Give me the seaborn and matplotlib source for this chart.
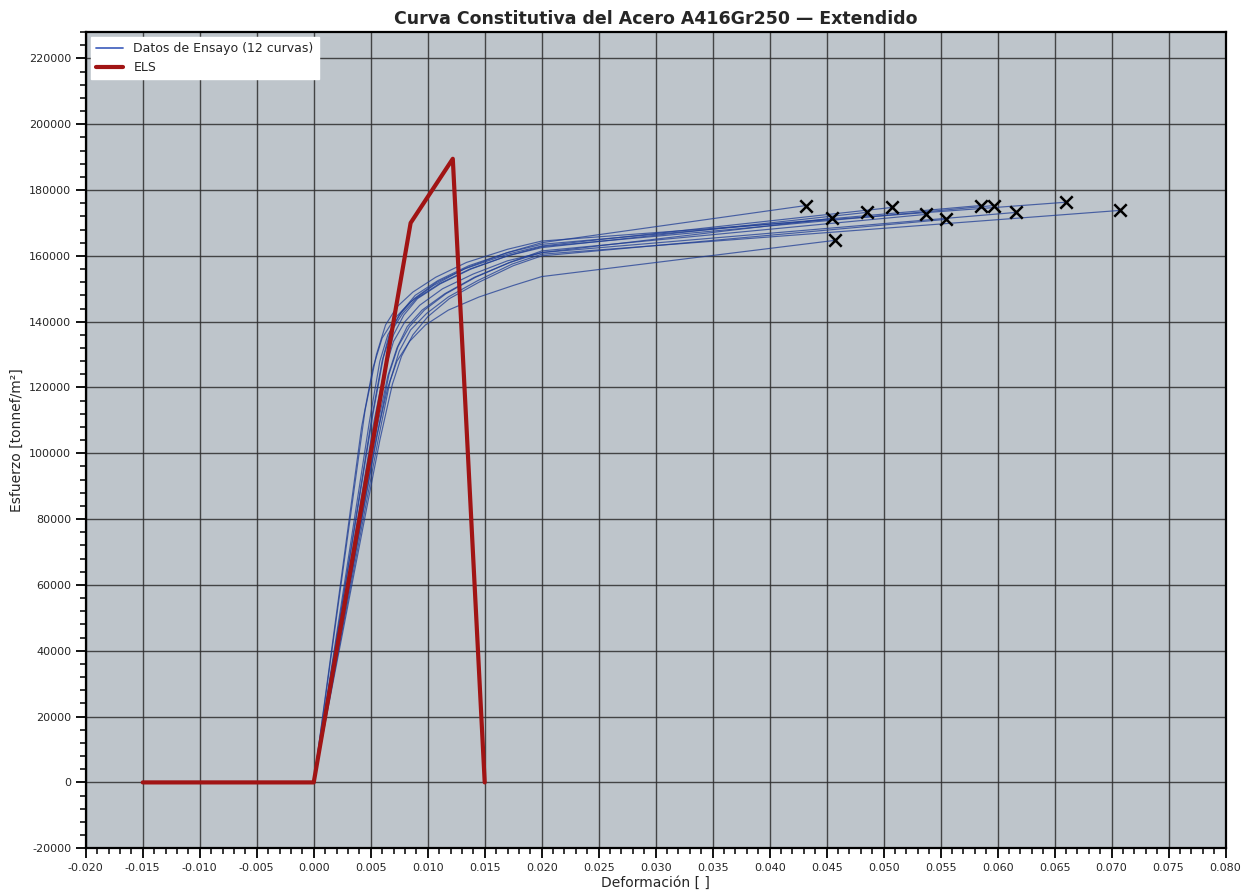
import matplotlib
matplotlib.use("Agg")
import matplotlib.pyplot as plt
import seaborn as sns
import pandas as pd
from matplotlib.ticker import MultipleLocator, FormatStrFormatter
from matplotlib.lines import Line2D

# ---------------- data ----------------
curve_strains = [
    [0, 0.0049, 0.0058, 0.0065, 0.0075, 0.0088, 0.0108, 0.0135, 0.0170, 0.02, 0.0432],
    [0, 0.0053, 0.0063, 0.0070, 0.0080, 0.0093, 0.0113, 0.0140, 0.0170, 0.02, 0.0455],
    [0, 0.0055, 0.0065, 0.0073, 0.0084, 0.0098, 0.0118, 0.0145, 0.0175, 0.02, 0.0457],
    [0, 0.0052, 0.0061, 0.0068, 0.0078, 0.0090, 0.0110, 0.0137, 0.0170, 0.02, 0.0485],
    [0, 0.0042, 0.0052, 0.0060, 0.0071, 0.0085, 0.0105, 0.0132, 0.0170, 0.02, 0.0507],
    [0, 0.0056, 0.0066, 0.0074, 0.0084, 0.0097, 0.0116, 0.0142, 0.0172, 0.02, 0.0537],
    [0, 0.0058, 0.0069, 0.0077, 0.0087, 0.0100, 0.0119, 0.0145, 0.0175, 0.02, 0.0555],
    [0, 0.0051, 0.0060, 0.0067, 0.0077, 0.0089, 0.0109, 0.0136, 0.0170, 0.02, 0.0585],
    [0, 0.0053, 0.0063, 0.0070, 0.0079, 0.0091, 0.0111, 0.0138, 0.0170, 0.02, 0.0597],
    [0, 0.0055, 0.0065, 0.0073, 0.0082, 0.0095, 0.0115, 0.0141, 0.0172, 0.02, 0.0616],
    [0, 0.0045, 0.0055, 0.0063, 0.0073, 0.0087, 0.0107, 0.0134, 0.0170, 0.02, 0.0660],
    [0, 0.0057, 0.0067, 0.0075, 0.0085, 0.0099, 0.0118, 0.0144, 0.0174, 0.02, 0.0707],
]
curve_stresses = [
    [0, 110000, 128000, 136000, 142000, 147000, 152000, 156500, 161000, 164000, 175300],
    [0, 108000, 126000, 134000, 140000, 145000, 150000, 154500, 158500, 161000, 171400],
    [0, 105000, 120000, 128000, 134000, 139000, 143500, 147500, 151000, 153700, 164700],
    [0, 112000, 129000, 137000, 142500, 147000, 151500, 156000, 160000, 162500, 173200],
    [0, 108000, 126000, 135000, 141000, 146000, 151000, 156000, 160500, 163000, 174700],
    [0, 106000, 124000, 132500, 138500, 143500, 148500, 153500, 158000, 161500, 172600],
    [0, 104000, 121000, 129500, 136000, 141500, 147000, 152000, 157000, 160000, 171100],
    [0, 111000, 128000, 137000, 143000, 148000, 152500, 157000, 161000, 163500, 175300],
    [0, 110000, 127000, 136000, 142000, 147000, 151500, 156000, 160000, 162800, 175300],
    [0, 107000, 123500, 132000, 138500, 143500, 148500, 153500, 158000, 161000, 173200],
    [0, 113000, 130000, 139000, 144500, 149000, 153500, 158000, 162000, 164500, 176300],
    [0, 105000, 122000, 131000, 137500, 142500, 147500, 152500, 157500, 160500, 173800],
]
els_strain = [-0.015, 0.0, 0.0085, 0.0122, 0.015]
els_stress = [0, 0, 170000, 189500, 0]

title = "Curva Constitutiva del Acero A416Gr250 — Extendido"
xlabel = "Deformación [ ]"
ylabel = "Esfuerzo [tonnef/m²]"
legend_labels = ["Datos de Ensayo (12 curvas)", "ELS"]

# ---------------- build table ----------------
rows = []
for i, (xs, ys) in enumerate(zip(curve_strains, curve_stresses)):
    for j, (x, y) in enumerate(zip(xs, ys)):
        rows.append({"curve": i, "order": j, "strain": x, "stress": y})
df = pd.DataFrame(rows)
ends = df.sort_values("order").groupby("curve").tail(1)
els_df = pd.DataFrame({"strain": els_strain, "stress": els_stress})

# ---------------- plot ----------------
sns.set_theme(style="ticks")
plt.rcParams["font.family"] = ["DejaVu Sans"]
plt.rcParams["axes.unicode_minus"] = False

fig = plt.figure(figsize=(12.43, 8.91), dpi=100)
ax = fig.add_axes([0.069, 0.048, 0.917, 0.916])
ax.set_facecolor("#bec5cb")

blue = "#1f3d94"
sns.lineplot(data=df, x="strain", y="stress", units="curve", estimator=None,
             sort=False, color=blue, lw=0.85, alpha=0.75, ax=ax, legend=False)
sns.lineplot(data=els_df, x="strain", y="stress", sort=False, estimator=None,
             color="#a11414", lw=3, ax=ax, legend=False, zorder=3)
sns.scatterplot(data=ends, x="strain", y="stress", marker="x", color="black",
                s=80, linewidth=1.8, ax=ax, legend=False, zorder=4)

ax.set_xlim(-0.02, 0.08)
ax.set_ylim(-20000, 228000)
ax.xaxis.set_major_locator(MultipleLocator(0.005))
ax.xaxis.set_minor_locator(MultipleLocator(0.001))
ax.yaxis.set_major_locator(MultipleLocator(20000))
ax.yaxis.set_minor_locator(MultipleLocator(4000))
ax.xaxis.set_major_formatter(FormatStrFormatter("%.3f"))
ax.grid(True, which="major", color="#2e2e2e", lw=1.0, alpha=0.85)
ax.set_axisbelow(True)
ax.tick_params(axis="both", which="major", length=7, width=1.3, labelsize=8,
               direction="out", color="black")
ax.tick_params(axis="both", which="minor", length=4, width=1.1,
               direction="out", color="black")
for sp in ax.spines.values():
    sp.set_linewidth(1.6)
    sp.set_color("black")

ax.set_title(title, fontsize=12.5, fontweight="bold", pad=6)
ax.set_xlabel(xlabel, fontsize=10, labelpad=2)
ax.set_ylabel(ylabel, fontsize=10, labelpad=4)

handles = [Line2D([0], [0], color="#4a68c0", lw=1.3),
           Line2D([0], [0], color="#a11414", lw=3)]
leg = ax.legend(handles, legend_labels, loc="upper left", fontsize=9,
                frameon=True, fancybox=False, framealpha=1.0,
                borderaxespad=0.4, handlelength=2.2)
leg.get_frame().set_facecolor("white")
leg.get_frame().set_edgecolor("white")

fig.savefig("out.png", dpi=100)
